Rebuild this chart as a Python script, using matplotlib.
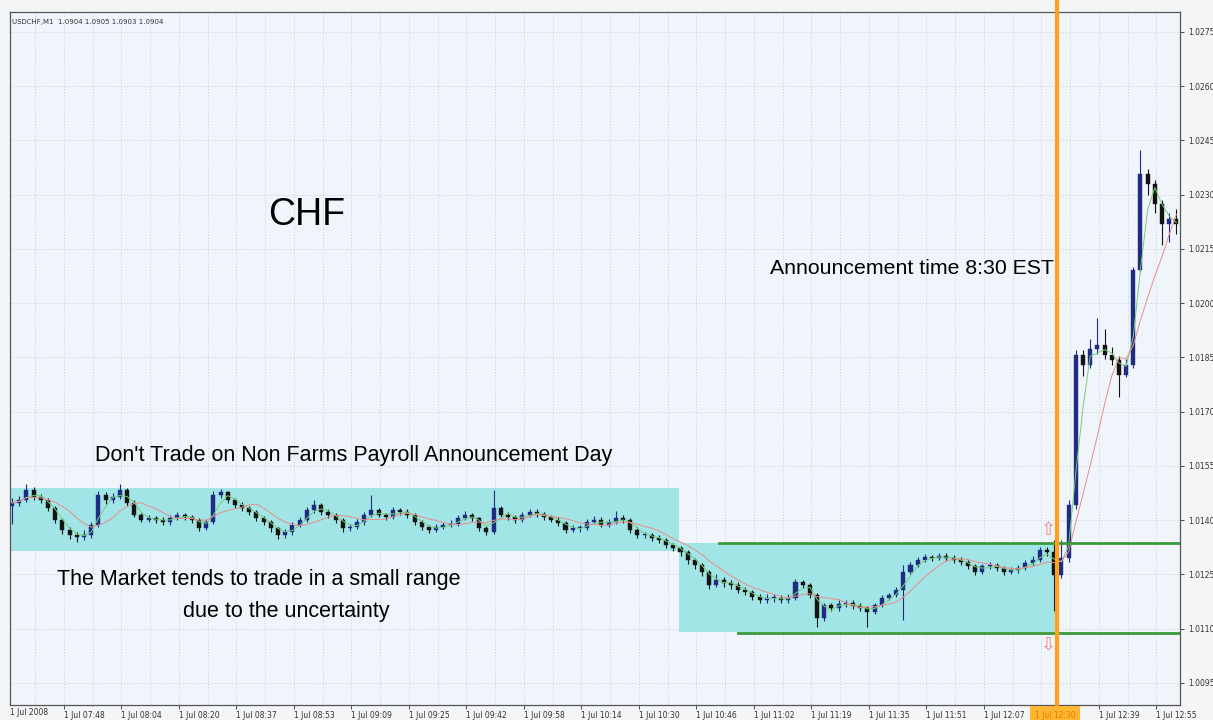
import numpy as np
import pandas as pd
import matplotlib
matplotlib.use('Agg')
import matplotlib.pyplot as plt
from matplotlib.patches import Rectangle

close = [1.01448, 1.01456, 1.01484, 1.01464, 1.01456, 1.01434, 1.01401, 1.01373, 1.01359, 1.01354,
         1.01359, 1.01387, 1.01470, 1.01456, 1.01464, 1.01484, 1.01448, 1.01415, 1.01401, 1.01406,
         1.01401, 1.01395, 1.01406, 1.01415, 1.01409, 1.01401, 1.01378, 1.01395, 1.01470, 1.01478,
         1.01456, 1.01442, 1.01434, 1.01423, 1.01406, 1.01395, 1.01378, 1.01359, 1.01367, 1.01387,
         1.01401, 1.01428, 1.01442, 1.01423, 1.01415, 1.01401, 1.01378, 1.01381, 1.01395, 1.01415,
         1.01428, 1.01415, 1.01409, 1.01428, 1.01423, 1.01415, 1.01395, 1.01381, 1.01373, 1.01381,
         1.01387, 1.01390, 1.01406, 1.01415, 1.01406, 1.01378, 1.01367, 1.01434, 1.01415, 1.01409,
         1.01401, 1.01415, 1.01423, 1.01417, 1.01409, 1.01401, 1.01392, 1.01373, 1.01378, 1.01378,
         1.01395, 1.01401, 1.01387, 1.01395, 1.01406, 1.01401, 1.01373, 1.01359, 1.01359, 1.01351,
         1.01345, 1.01331, 1.01323, 1.01312, 1.01290, 1.01276, 1.01257, 1.01221, 1.01235, 1.01226,
         1.01221, 1.01207, 1.01201, 1.01187, 1.01179, 1.01185, 1.01185, 1.01179, 1.01185, 1.01229,
         1.01221, 1.01193, 1.01129, 1.01165, 1.01157, 1.01168, 1.01171, 1.01162, 1.01157, 1.01146,
         1.01165, 1.01185, 1.01193, 1.01207, 1.01257, 1.01276, 1.01290, 1.01298, 1.01296, 1.01301,
         1.01296, 1.01290, 1.01284, 1.01273, 1.01257, 1.01273, 1.01276, 1.01268, 1.01257, 1.01262,
         1.01268, 1.01281, 1.01290, 1.01317, 1.01312, 1.01248, 1.01295, 1.01442, 1.01858, 1.01830,
         1.01872, 1.01885, 1.01858, 1.01844, 1.01802, 1.01830, 1.02093, 1.02356, 1.02329, 1.02273,
         1.02218, 1.02232, 1.02218]
high = [1.01462, 1.01468, 1.01500, 1.01492, 1.01472, 1.01462, 1.01440, 1.01406, 1.01380, 1.01368,
        1.01372, 1.01395, 1.01480, 1.01478, 1.01475, 1.01500, 1.01490, 1.01455, 1.01420, 1.01415,
        1.01412, 1.01408, 1.01414, 1.01422, 1.01420, 1.01415, 1.01406, 1.01402, 1.01480, 1.01486,
        1.01482, 1.01462, 1.01450, 1.01440, 1.01428, 1.01412, 1.01400, 1.01382, 1.01375, 1.01395,
        1.01408, 1.01436, 1.01455, 1.01448, 1.01430, 1.01420, 1.01406, 1.01390, 1.01402, 1.01422,
        1.01470, 1.01435, 1.01420, 1.01436, 1.01435, 1.01430, 1.01420, 1.01400, 1.01388, 1.01390,
        1.01395, 1.01400, 1.01415, 1.01425, 1.01420, 1.01410, 1.01385, 1.01484, 1.01440, 1.01422,
        1.01415, 1.01422, 1.01432, 1.01430, 1.01424, 1.01415, 1.01408, 1.01398, 1.01386, 1.01388,
        1.01402, 1.01412, 1.01408, 1.01404, 1.01425, 1.01415, 1.01406, 1.01380, 1.01368, 1.01365,
        1.01358, 1.01350, 1.01338, 1.01328, 1.01318, 1.01296, 1.01282, 1.01262, 1.01250, 1.01242,
        1.01235, 1.01228, 1.01215, 1.01208, 1.01195, 1.01195, 1.01196, 1.01192, 1.01195, 1.01238,
        1.01235, 1.01226, 1.01198, 1.01172, 1.01170, 1.01178, 1.01180, 1.01178, 1.01170, 1.01162,
        1.01172, 1.01192, 1.01200, 1.01215, 1.01275, 1.01285, 1.01298, 1.01306, 1.01305, 1.01310,
        1.01308, 1.01304, 1.01298, 1.01290, 1.01278, 1.01280, 1.01285, 1.01282, 1.01272, 1.01270,
        1.01276, 1.01290, 1.01300, 1.01326, 1.01325, 1.01345, 1.01345, 1.01455, 1.01870, 1.01870,
        1.01900, 1.01960, 1.01930, 1.01880, 1.01855, 1.01845, 1.02100, 1.02424, 1.02370, 1.02340,
        1.02285, 1.02250, 1.02260]
low = [1.01390, 1.01440, 1.01450, 1.01456, 1.01448, 1.01426, 1.01392, 1.01362, 1.01348, 1.01340,
       1.01345, 1.01350, 1.01380, 1.01445, 1.01448, 1.01458, 1.01440, 1.01408, 1.01394, 1.01395,
       1.01392, 1.01386, 1.01388, 1.01400, 1.01400, 1.01392, 1.01370, 1.01372, 1.01390, 1.01462,
       1.01448, 1.01435, 1.01425, 1.01415, 1.01398, 1.01386, 1.01368, 1.01348, 1.01350, 1.01360,
       1.01380, 1.01395, 1.01420, 1.01415, 1.01406, 1.01392, 1.01368, 1.01370, 1.01375, 1.01388,
       1.01408, 1.01408, 1.01400, 1.01402, 1.01415, 1.01406, 1.01386, 1.01372, 1.01364, 1.01366,
       1.01375, 1.01380, 1.01385, 1.01400, 1.01398, 1.01370, 1.01358, 1.01362, 1.01408, 1.01400,
       1.01392, 1.01395, 1.01410, 1.01410, 1.01400, 1.01394, 1.01384, 1.01365, 1.01366, 1.01368,
       1.01372, 1.01390, 1.01380, 1.01380, 1.01390, 1.01392, 1.01365, 1.01350, 1.01350, 1.01342,
       1.01336, 1.01322, 1.01314, 1.01302, 1.01280, 1.01266, 1.01246, 1.01210, 1.01215, 1.01216,
       1.01210, 1.01198, 1.01192, 1.01178, 1.01170, 1.01172, 1.01175, 1.01170, 1.01172, 1.01180,
       1.01212, 1.01185, 1.01105, 1.01120, 1.01148, 1.01150, 1.01160, 1.01154, 1.01148, 1.01105,
       1.01140, 1.01160, 1.01178, 1.01188, 1.01124, 1.01250, 1.01270, 1.01284, 1.01288, 1.01290,
       1.01288, 1.01282, 1.01276, 1.01265, 1.01248, 1.01250, 1.01266, 1.01260, 1.01248, 1.01250,
       1.01255, 1.01262, 1.01275, 1.01285, 1.01300, 1.01150, 1.01240, 1.01285, 1.01430, 1.01800,
       1.01820, 1.01860, 1.01845, 1.01830, 1.01740, 1.01795, 1.01820, 1.02085, 1.02300, 1.02250,
       1.02160, 1.02170, 1.02190]
first_open = 1.01440
open_ = [first_open] + close[:-1]

y_ticks = [1.0095, 1.0110, 1.0125, 1.0140, 1.0155, 1.0170, 1.0185, 1.0200,
           1.0215, 1.0230, 1.0245, 1.0260, 1.0275]
# the 12:23 label sits under the crosshair time box in the reference
x_labels = ['1 Jul 07:48', '1 Jul 08:04', '1 Jul 08:20', '1 Jul 08:37', '1 Jul 08:53',
            '1 Jul 09:09', '1 Jul 09:25', '1 Jul 09:42', '1 Jul 09:58', '1 Jul 10:14',
            '1 Jul 10:30', '1 Jul 10:46', '1 Jul 11:02', '1 Jul 11:19', '1 Jul 11:35',
            '1 Jul 11:51', '1 Jul 12:07', '', '1 Jul 12:39', '1 Jul 12:55']
cross_label = '1 Jul 12:30'

range1 = (-0.3, 92.8, 1.01315, 1.01489)   # bar from, bar to, low, high
range2 = (92.8, 145.4, 1.01091, 1.01337)
resist = (98.3, 1.01337)
support = (101.0, 1.01088)
announce_bar = 145.4

fig = plt.figure(figsize=(12.13, 7.2), dpi=100, facecolor='#f3f5f7')
ax = fig.add_axes([0.0082, 0.0208, 0.9646, 0.9625])
ax.set_facecolor('#f0f5fc')

n = len(close)
idx = np.arange(n)
ax.set_xlim(-0.3, 162.5)
ax.set_ylim(1.00889, 1.02805)

# grid
for gx in np.arange(3.2, 163, 4):
    ax.axvline(gx, color='#c9ced8', lw=0.7, ls=(0, (1, 2)), zorder=0)
for gy in y_ticks:
    ax.axhline(gy, color='#c9ced8', lw=0.7, ls=(0, (1, 2)), zorder=0)

# shaded ranges
for r in (range1, range2):
    ax.add_patch(Rectangle((r[0], r[2]), r[1] - r[0], r[3] - r[2],
                           facecolor='#a2e5e6', edgecolor='none', zorder=1))

# candles
for i in idx:
    o, c, h, l = open_[i], close[i], high[i], low[i]
    col = '#1f2c82' if c >= o else '#141414'
    ax.vlines(i, l, h, color=col, lw=0.8, zorder=3)
    ax.add_patch(Rectangle((i - 0.28, min(o, c)), 0.56, max(abs(c - o), 0.00002),
                           facecolor=col, edgecolor=col, lw=0.3, zorder=3))

# moving averages
s = pd.Series(close)
ax.plot(idx, s.rolling(3, min_periods=1).mean(), color='#7acc7a', lw=0.7, zorder=4)
ax.plot(idx, s.rolling(7, min_periods=1).mean(), color='#ea8c8c', lw=0.7, zorder=4)

# support / resistance lines
ax.plot([resist[0], 162.5], [resist[1]] * 2, color='#3a9a3a', lw=2, zorder=5)
ax.plot([support[0], 162.5], [support[1]] * 2, color='#3a9a3a', lw=2, zorder=5)

# announcement line
ax.axvline(announce_bar, ymin=-0.012, ymax=1.02, color='#ffa21a', lw=3, zorder=6, clip_on=False)

# arrows
ax.text(144.2, 1.01373, '\u21e7', color='#f08080', fontsize=13, ha='center', va='center',
        family='DejaVu Sans', zorder=7)
ax.text(144.2, 1.01055, '\u21e9', color='#f08080', fontsize=13, ha='center', va='center',
        family='DejaVu Sans', zorder=7)

# axes styling
for sp in ax.spines.values():
    sp.set_color('#555555')
    sp.set_linewidth(0.9)
ax.yaxis.tick_right()
ax.set_yticks(y_ticks)
ax.set_yticklabels(['%.4f' % v for v in y_ticks])
ax.tick_params(axis='y', length=3, width=0.6, pad=3, labelsize=5.5, labelcolor='#333333',
               colors='#333333')
xt = [7.2 + 8 * k for k in range(len(x_labels))]
ax.set_xticks(xt)
ax.set_xticklabels(x_labels, ha='left')
ax.tick_params(axis='x', length=3, width=0.6, pad=1, labelsize=5.5, labelcolor='#333333',
               colors='#333333')
ax.text(0.0, -0.004, '1 Jul 2008', transform=ax.transAxes, fontsize=5.5, color='#333333',
        ha='left', va='top')

# crosshair time box
fig.text(1055 / 1213, 1 - 715 / 720, cross_label, fontsize=5.5, color='#e07a00',
         ha='center', va='center',
         bbox=dict(boxstyle='square,pad=0.6', facecolor='#ffb733', edgecolor='none'))

# header
fig.text(12 / 1213, 1 - 22 / 720, 'USDCHF,M1  1.0904 1.0905 1.0903 1.0904', fontsize=5,
         color='#333333', ha='left', va='center')

big = ['Liberation Sans', 'DejaVu Sans']
fig.text(268 / 1213, 1 - 215 / 720, 'CHF', fontsize=27, family=big, ha='left', va='center')
fig.text(770 / 1213, 1 - 268 / 720, 'Announcement time 8:30 EST', fontsize=15.3, family=big,
         ha='left', va='center')
fig.text(95 / 1213, 1 - 455 / 720, "Don't Trade on Non Farms Payroll Announcement Day",
         fontsize=15.5, family=big, ha='left', va='center')
fig.text(57 / 1213, 1 - 580 / 720, 'The Market tends to trade in a small range', fontsize=15.5,
         family=big, ha='left', va='center')
fig.text(183 / 1213, 1 - 611 / 720, 'due to the uncertainty', fontsize=15.5, family=big,
         ha='left', va='center')

fig.savefig('out.png', dpi=100, facecolor=fig.get_facecolor())
